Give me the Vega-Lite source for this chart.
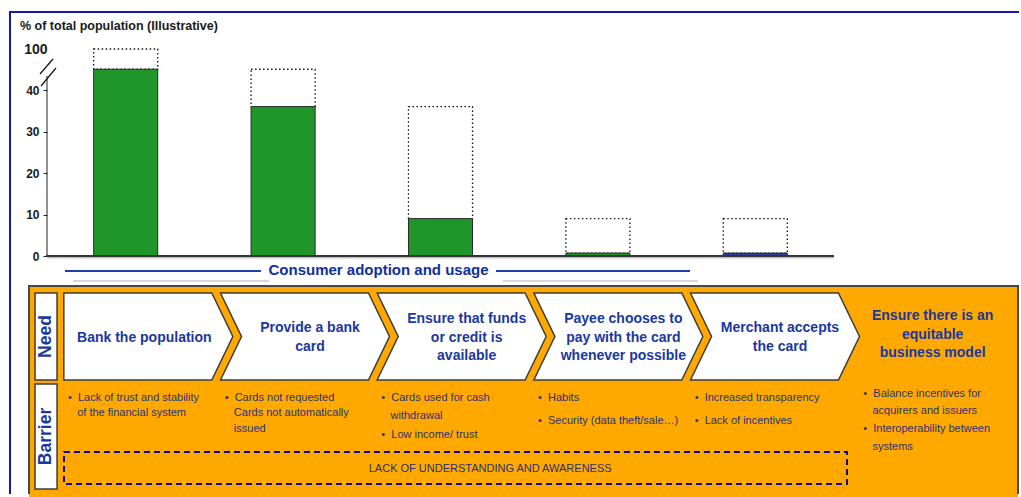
{
  "$schema": "https://vega.github.io/schema/vega-lite/v6.json",
  "width": 1021,
  "height": 497,
  "autosize": {"type": "fit", "contains": "padding"},
  "padding": 0,
  "background": "white",
  "config": {"view": {"stroke": null}, "font": "Liberation Sans"},
  "datasets": {
    "funnel": [
      {"stage": "Bank the population", "adoption": 45, "potential": 100},
      {"stage": "Provide a bank card", "adoption": 36, "potential": 45},
      {"stage": "Ensure that funds or credit is available", "adoption": 9, "potential": 36},
      {"stage": "Payee chooses to pay with the card", "adoption": 0.7, "potential": 9},
      {"stage": "Merchant accepts the card", "adoption": 0.7, "potential": 9}
    ],
    "steps": [
      {"step": 1, "need": "Bank the population", "barrier": "•\u00a0\u00a0Lack of trust and stability\n\u200b\u00a0\u00a0\u00a0of the financial system"},
      {"step": 2, "need": "Provide a bank\ncard", "barrier": "•\u00a0\u00a0Cards not requested\n\u200b\u00a0\u00a0\u00a0Cards not automatically\n\u200b\u00a0\u00a0\u00a0issued"},
      {"step": 3, "need": "Ensure that funds\nor credit is\navailable", "barrier": "•\u00a0\u00a0Cards used for cash\n\u200b\u00a0\u00a0\u00a0withdrawal\n•\u00a0\u00a0Low income/ trust"},
      {"step": 4, "need": "Payee chooses to\npay with the card\nwhenever possible", "barrier": "•\u00a0\u00a0Habits\n•\u00a0\u00a0Security (data theft/sale…)"},
      {"step": 5, "need": "Merchant accepts\nthe card", "barrier": "•\u00a0\u00a0Increased transparency\n•\u00a0\u00a0Lack of incentives"},
      {"step": 6, "need": "Ensure there is an\nequitable\nbusiness model", "barrier": "•\u00a0\u00a0Balance incentives for\n\u200b\u00a0\u00a0\u00a0acquirers and issuers\n•\u00a0\u00a0Interoperability between\n\u200b\u00a0\u00a0\u00a0systems"}
    ],
    "rows": [{"row": "Need"}, {"row": "Barrier"}]
  },
  "layer": [
    {
      "data": {"values": [{}]},
      "layer": [
        {
          "mark": {"type": "rect", "fill": "#FFA900"},
          "encoding": {
            "x": {"datum": 29, "type": "quantitative", "scale": {"domain": [0, 1021], "nice": false, "zero": false}, "axis": null},
            "x2": {"datum": 1018},
            "y": {"datum": 286, "type": "quantitative", "scale": {"domain": [0, 497], "nice": false, "zero": false, "reverse": true}, "axis": null},
            "y2": {"datum": 497}
          }
        },
        {
          "mark": {"type": "rule", "stroke": "#474747", "strokeWidth": 2},
          "encoding": {
            "x": {"datum": 28, "type": "quantitative", "scale": {"domain": [0, 1021], "nice": false, "zero": false}, "axis": null},
            "x2": {"datum": 1019},
            "y": {"datum": 286, "type": "quantitative", "scale": {"domain": [0, 497], "nice": false, "zero": false, "reverse": true}, "axis": null}
          }
        },
        {
          "mark": {"type": "rule", "stroke": "#474747", "strokeWidth": 2},
          "encoding": {
            "x": {"datum": 29, "type": "quantitative", "scale": {"domain": [0, 1021], "nice": false, "zero": false}, "axis": null},
            "y": {"datum": 286, "type": "quantitative", "scale": {"domain": [0, 497], "nice": false, "zero": false, "reverse": true}, "axis": null},
            "y2": {"datum": 494}
          }
        },
        {
          "mark": {"type": "rule", "stroke": "#474747", "strokeWidth": 2},
          "encoding": {
            "x": {"datum": 1018, "type": "quantitative", "scale": {"domain": [0, 1021], "nice": false, "zero": false}, "axis": null},
            "y": {"datum": 286, "type": "quantitative", "scale": {"domain": [0, 497], "nice": false, "zero": false, "reverse": true}, "axis": null},
            "y2": {"datum": 494}
          }
        },
        {
          "mark": {"type": "rule", "stroke": "#1818a8", "strokeWidth": 2},
          "encoding": {
            "x": {"datum": 9, "type": "quantitative", "scale": {"domain": [0, 1021], "nice": false, "zero": false}, "axis": null},
            "x2": {"datum": 1019},
            "y": {"datum": 12, "type": "quantitative", "scale": {"domain": [0, 497], "nice": false, "zero": false, "reverse": true}, "axis": null}
          }
        },
        {
          "mark": {"type": "rule", "stroke": "#1818a8", "strokeWidth": 2},
          "encoding": {
            "x": {"datum": 10, "type": "quantitative", "scale": {"domain": [0, 1021], "nice": false, "zero": false}, "axis": null},
            "y": {"datum": 12, "type": "quantitative", "scale": {"domain": [0, 497], "nice": false, "zero": false, "reverse": true}, "axis": null},
            "y2": {"datum": 494}
          }
        },
        {
          "mark": {"type": "text", "text": "% of total population (Illustrative)", "align": "left", "baseline": "middle", "fontSize": 12.5, "fontWeight": "bold", "color": "#1a1a1a"},
          "encoding": {
            "x": {"datum": 20, "type": "quantitative", "scale": {"domain": [0, 1021], "nice": false, "zero": false}, "axis": null},
            "y": {"datum": 26, "type": "quantitative", "scale": {"domain": [0, 497], "nice": false, "zero": false, "reverse": true}, "axis": null}
          }
        },
        {
          "mark": {"type": "text", "text": "Consumer adoption and usage", "align": "center", "baseline": "middle", "fontSize": 15, "fontWeight": "bold", "color": "#0f2fa0"},
          "encoding": {
            "x": {"datum": 378.5, "type": "quantitative", "scale": {"domain": [0, 1021], "nice": false, "zero": false}, "axis": null},
            "y": {"datum": 270, "type": "quantitative", "scale": {"domain": [0, 497], "nice": false, "zero": false, "reverse": true}, "axis": null}
          }
        },
        {
          "mark": {"type": "rule", "stroke": "#1f3fae", "strokeWidth": 2},
          "encoding": {
            "x": {"datum": 65, "type": "quantitative", "scale": {"domain": [0, 1021], "nice": false, "zero": false}, "axis": null},
            "x2": {"datum": 261},
            "y": {"datum": 271, "type": "quantitative", "scale": {"domain": [0, 497], "nice": false, "zero": false, "reverse": true}, "axis": null}
          }
        },
        {
          "mark": {"type": "rule", "stroke": "#1f3fae", "strokeWidth": 2},
          "encoding": {
            "x": {"datum": 496, "type": "quantitative", "scale": {"domain": [0, 1021], "nice": false, "zero": false}, "axis": null},
            "x2": {"datum": 690},
            "y": {"datum": 271, "type": "quantitative", "scale": {"domain": [0, 497], "nice": false, "zero": false, "reverse": true}, "axis": null}
          }
        },
        {
          "mark": {"type": "rule", "stroke": "#d8d8d8", "strokeWidth": 2},
          "encoding": {
            "x": {"datum": 73, "type": "quantitative", "scale": {"domain": [0, 1021], "nice": false, "zero": false}, "axis": null},
            "x2": {"datum": 269},
            "y": {"datum": 281, "type": "quantitative", "scale": {"domain": [0, 497], "nice": false, "zero": false, "reverse": true}, "axis": null}
          }
        },
        {
          "mark": {"type": "rule", "stroke": "#d8d8d8", "strokeWidth": 2},
          "encoding": {
            "x": {"datum": 503, "type": "quantitative", "scale": {"domain": [0, 1021], "nice": false, "zero": false}, "axis": null},
            "x2": {"datum": 698},
            "y": {"datum": 281, "type": "quantitative", "scale": {"domain": [0, 497], "nice": false, "zero": false, "reverse": true}, "axis": null}
          }
        },
        {
          "mark": {"type": "rule", "stroke": "#c4c4c4", "strokeWidth": 1.5},
          "encoding": {
            "x": {"datum": 47, "type": "quantitative", "scale": {"domain": [0, 1021], "nice": false, "zero": false}, "axis": null},
            "x2": {"datum": 834},
            "y": {"datum": 257.8, "type": "quantitative", "scale": {"domain": [0, 497], "nice": false, "zero": false, "reverse": true}, "axis": null}
          }
        }
      ]
    },
    {
      "data": {"name": "funnel"},
      "encoding": {
        "x": {"field": "stage", "type": "nominal", "sort": null, "scale": {"type": "band", "range": [47, 834], "paddingInner": 0.593, "paddingOuter": 0.2965}, "axis": null}
      },
      "layer": [
        {
          "mark": {"type": "bar", "fill": "white", "stroke": "#111111", "strokeWidth": 1.3, "strokeDash": [1.5, 2.5]},
          "encoding": {
            "y": {
              "field": "potential", "type": "quantitative",
              "scale": {"domain": [0, 45, 100], "range": [256, 69.25, 49], "nice": false, "zero": false},
              "axis": {
                "values": [0, 10, 20, 30, 40, 100], "orient": "left", "offset": -47, "domain": false, "grid": false, "title": null,
                "ticks": true, "tickSize": 4, "tickColor": "#222222",
                "tickOpacity": {"condition": {"test": "datum.value == 100", "value": 0}, "value": 1},
                "labelFont": "Liberation Sans", "labelFontWeight": "bold",
                "labelFontSize": {"condition": {"test": "datum.value == 100", "value": 14}, "value": 12},
                "labelPadding": {"condition": {"test": "datum.value == 100", "value": -4}, "value": 4},
                "labelColor": "#1a1a1a"
              }
            },
            "y2": {"field": "adoption"}
          }
        },
        {
          "mark": {"type": "bar", "stroke": "#2a2a2a", "strokeWidth": 1},
          "encoding": {
            "y": {"field": "adoption", "type": "quantitative", "scale": {"domain": [0, 45, 100], "range": [256, 69.25, 49], "nice": false, "zero": false}},
            "color": {
              "field": "stage", "type": "nominal", "sort": null,
              "scale": {
                "domain": ["Bank the population", "Provide a bank card", "Ensure that funds or credit is available", "Payee chooses to pay with the card", "Merchant accepts the card"],
                "range": ["#20962a", "#20962a", "#20962a", "#20962a", "#2b3a9a"]
              },
              "legend": null
            }
          }
        }
      ]
    },
    {
      "data": {"values": [{}]},
      "layer": [
        {
          "mark": {"type": "rule", "stroke": "#222222", "strokeWidth": 1},
          "encoding": {
            "x": {"datum": 47, "type": "quantitative", "scale": {"domain": [0, 1021], "nice": false, "zero": false}, "axis": null},
            "y": {"datum": 76, "type": "quantitative", "scale": {"domain": [0, 497], "nice": false, "zero": false, "reverse": true}, "axis": null},
            "y2": {"datum": 256}
          }
        },
        {
          "mark": {"type": "rule", "stroke": "#333333", "strokeWidth": 2},
          "encoding": {
            "x": {"datum": 46, "type": "quantitative", "scale": {"domain": [0, 1021], "nice": false, "zero": false}, "axis": null},
            "x2": {"datum": 834},
            "y": {"datum": 256, "type": "quantitative", "scale": {"domain": [0, 497], "nice": false, "zero": false, "reverse": true}, "axis": null}
          }
        },
        {
          "mark": {"type": "rule", "stroke": "#111111", "strokeWidth": 1.2},
          "encoding": {
            "x": {"datum": 40, "type": "quantitative", "scale": {"domain": [0, 1021], "nice": false, "zero": false}, "axis": null},
            "x2": {"datum": 53},
            "y": {"datum": 74, "type": "quantitative", "scale": {"domain": [0, 497], "nice": false, "zero": false, "reverse": true}, "axis": null},
            "y2": {"datum": 59}
          }
        },
        {
          "mark": {"type": "rule", "stroke": "#111111", "strokeWidth": 1.2},
          "encoding": {
            "x": {"datum": 41, "type": "quantitative", "scale": {"domain": [0, 1021], "nice": false, "zero": false}, "axis": null},
            "x2": {"datum": 56},
            "y": {"datum": 86, "type": "quantitative", "scale": {"domain": [0, 497], "nice": false, "zero": false, "reverse": true}, "axis": null},
            "y2": {"datum": 68}
          }
        }
      ]
    },
    {
      "resolve": {"scale": {"shape": "independent", "size": "independent"}},
      "layer": [
        {
          "data": {"name": "rows"},
          "mark": {"type": "point", "filled": true, "fill": "white", "stroke": "#3c3c3c", "strokeWidth": 1.5, "opacity": 1, "xOffset": -102.3},
          "encoding": {
            "x": {"datum": 1, "type": "ordinal", "scale": {"type": "band", "domain": [1, 2, 3, 4, 5, 6], "range": [70, 1010], "paddingInner": 0, "paddingOuter": 0}, "axis": null},
            "y": {"field": "row", "type": "nominal", "scale": {"type": "band", "domain": ["Need", "Barrier"], "range": [286.5, 486.5], "paddingInner": 0, "paddingOuter": 0}, "axis": null},
            "shape": {"field": "row", "type": "nominal", "scale": {"domain": ["Need", "Barrier"], "range": ["M-0.253,-1H0.253V1H-0.253Z", "M-0.21,-1H0.21V1H-0.21Z"]}, "legend": null},
            "size": {"field": "row", "type": "ordinal", "scale": {"domain": ["Need", "Barrier"], "range": [7569, 11025]}, "legend": null}
          }
        },
        {
          "data": {"name": "rows"},
          "mark": {"type": "text", "angle": 270, "fontSize": 17.5, "fontWeight": "bold", "color": "#1a37a0", "align": "center", "baseline": "middle", "xOffset": -102.3},
          "encoding": {
            "x": {"datum": 1, "type": "ordinal", "scale": {"type": "band", "domain": [1, 2, 3, 4, 5, 6], "range": [70, 1010], "paddingInner": 0, "paddingOuter": 0}, "axis": null},
            "y": {"field": "row", "type": "nominal", "scale": {"type": "band", "domain": ["Need", "Barrier"], "range": [286.5, 486.5], "paddingInner": 0, "paddingOuter": 0}, "axis": null},
            "text": {"field": "row", "type": "nominal"}
          }
        },
        {
          "data": {"name": "steps"},
          "transform": [{"filter": "datum.step <= 5"}],
          "mark": {"type": "point", "filled": true, "fill": "white", "stroke": "#3c3c3c", "strokeWidth": 1.5, "opacity": 1, "size": 28561},
          "encoding": {
            "x": {"field": "step", "type": "ordinal", "scale": {"type": "band", "domain": [1, 2, 3, 4, 5, 6], "range": [70, 1010], "paddingInner": 0, "paddingOuter": 0}, "axis": null},
            "y": {"datum": "Need", "type": "nominal", "scale": {"type": "band", "domain": ["Need", "Barrier"], "range": [286.5, 486.5], "paddingInner": 0, "paddingOuter": 0}, "axis": null},
            "shape": {
              "field": "step", "type": "ordinal",
              "scale": {"domain": [1, 2, 3, 4, 5], "range": ["M-1,-0.515H0.751L1,0L0.751,0.515H-1Z", "M-1,-0.515H0.751L1,0L0.751,0.515H-1L-0.751,0Z", "M-1,-0.515H0.751L1,0L0.751,0.515H-1L-0.751,0Z", "M-1,-0.515H0.751L1,0L0.751,0.515H-1L-0.751,0Z", "M-1,-0.515H0.751L1,0L0.751,0.515H-1L-0.751,0Z"]},
              "legend": null
            }
          }
        },
        {
          "data": {"name": "steps"},
          "mark": {
            "type": "text", "fontSize": 14, "fontWeight": "bold", "color": "#1a37a0", "lineBreak": "\n", "lineHeight": 18.5, "align": "center", "baseline": "middle",
            "dx": {"expr": "datum.step == 1 ? -4 : datum.step == 6 ? 1 : 5"},
            "dy": {"expr": "-(length(split(datum.need, '\\n')) - 1) * 9.25 + (datum.step == 6 ? -2 : 1)"}
          },
          "encoding": {
            "x": {"field": "step", "type": "ordinal", "scale": {"type": "band", "domain": [1, 2, 3, 4, 5, 6], "range": [70, 1010], "paddingInner": 0, "paddingOuter": 0}, "axis": null},
            "y": {"datum": "Need", "type": "nominal", "scale": {"type": "band", "domain": ["Need", "Barrier"], "range": [286.5, 486.5], "paddingInner": 0, "paddingOuter": 0}, "axis": null},
            "text": {"field": "need", "type": "nominal"}
          }
        },
        {
          "data": {"name": "steps"},
          "mark": {
            "type": "text", "fontSize": 11, "color": "#2b3170", "lineBreak": "\n", "align": "left", "baseline": "top",
            "lineHeight": {"expr": "datum.step <= 2 ? 15.5 : datum.step == 3 ? 18.5 : datum.step == 6 ? 17.7 : 23"},
            "dx": {"expr": "datum.step == 6 ? 10 : -2"},
            "dy": {"expr": "datum.step == 6 ? -49 : -45"}
          },
          "encoding": {
            "x": {"field": "step", "type": "ordinal", "bandPosition": 0, "scale": {"type": "band", "domain": [1, 2, 3, 4, 5, 6], "range": [70, 1010], "paddingInner": 0, "paddingOuter": 0}, "axis": null},
            "y": {"datum": "Barrier", "type": "nominal", "scale": {"type": "band", "domain": ["Need", "Barrier"], "range": [286.5, 486.5], "paddingInner": 0, "paddingOuter": 0}, "axis": null},
            "text": {"field": "barrier", "type": "nominal"}
          }
        },
        {
          "data": {"values": [{"note": "LACK OF UNDERSTANDING AND AWARENESS"}]},
          "mark": {"type": "point", "filled": false, "stroke": "#0b0b8c", "strokeWidth": 2, "strokeDash": [6, 4], "opacity": 1, "size": 613089, "shape": "M-1,-0.0409H1V0.0409H-1Z", "xOffset": -6.2, "yOffset": 31.5},
          "encoding": {
            "x": {"datum": 3, "type": "ordinal", "scale": {"type": "band", "domain": [1, 2, 3, 4, 5, 6], "range": [70, 1010], "paddingInner": 0, "paddingOuter": 0}, "axis": null},
            "y": {"datum": "Barrier", "type": "nominal", "scale": {"type": "band", "domain": ["Need", "Barrier"], "range": [286.5, 486.5], "paddingInner": 0, "paddingOuter": 0}, "axis": null}
          }
        },
        {
          "data": {"values": [{"note": "LACK OF UNDERSTANDING AND AWARENESS"}]},
          "mark": {"type": "text", "fontSize": 11, "color": "#2b3170", "align": "center", "baseline": "middle", "dx": 28.5, "dy": 32},
          "encoding": {
            "x": {"datum": 3, "type": "ordinal", "scale": {"type": "band", "domain": [1, 2, 3, 4, 5, 6], "range": [70, 1010], "paddingInner": 0, "paddingOuter": 0}, "axis": null},
            "y": {"datum": "Barrier", "type": "nominal", "scale": {"type": "band", "domain": ["Need", "Barrier"], "range": [286.5, 486.5], "paddingInner": 0, "paddingOuter": 0}, "axis": null},
            "text": {"field": "note", "type": "nominal"}
          }
        }
      ]
    }
  ],
  "resolve": {"scale": {"x": "independent", "y": "independent"}, "axis": {"x": "independent", "y": "independent"}}
}
